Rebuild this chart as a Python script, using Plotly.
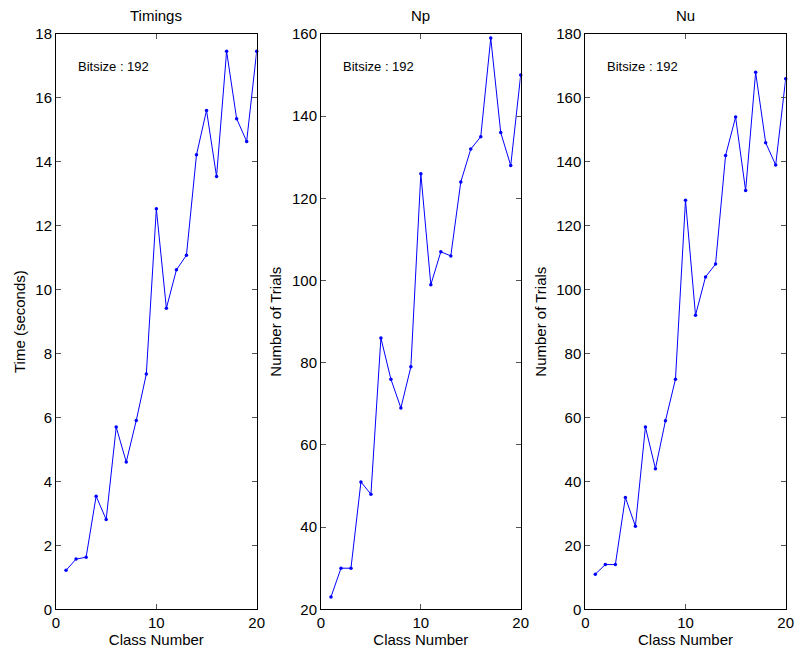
import plotly.graph_objects as go

class_number = list(range(1, 21))
timings = [1.22, 1.57, 1.63, 3.54, 2.81, 5.70, 4.61, 5.91, 7.36, 12.53, 9.42, 10.62, 11.08, 14.22, 15.61, 13.54, 17.46, 15.35, 14.64, 17.46]
np_trials = [23, 30, 30, 51, 48, 86, 76, 69, 79, 126, 99, 107, 106, 124, 132, 135, 159, 136, 128, 150]
nu_trials = [11, 14, 14, 35, 26, 57, 44, 59, 72, 128, 92, 104, 108, 142, 154, 131, 168, 146, 139, 166]

titles = ["Timings", "Np", "Nu"]
y_titles = ["Time (seconds)", "Number of Trials", "Number of Trials"]
y_ranges = [(0, 18), (20, 160), (0, 180)]
y_dticks = [2, 20, 20]
annotation_text = "Bitsize : 192"

W, H = 798, 655
x_doms = [(56 / W, 256.7 / W), (321 / W, 520.7 / W), (585.3 / W, 785.7 / W)]
y_dom = (1 - 609.3 / H, 1 - 34 / H)

fig = go.Figure()
series = [timings, np_trials, nu_trials]
font_family = "Liberation Sans, Arial, sans-serif"

for i, ys in enumerate(series):
    sfx = "" if i == 0 else str(i + 1)
    fig.add_trace(go.Scatter(
        x=class_number, y=ys, mode="lines+markers",
        line=dict(color="#0000ff", width=1),
        marker=dict(color="#0000ff", size=3.5),
        xaxis="x" + sfx, yaxis="y" + sfx, showlegend=False,
        cliponaxis=False,
    ))
    axis_common = dict(
        showline=True, linecolor="black", linewidth=1, mirror="ticks",
        ticks="inside", ticklen=5, tickcolor="#555555", tickwidth=1,
        showgrid=False, zeroline=False, automargin=False,
        tickfont=dict(family=font_family, size=15, color="black"),
    )
    fig.layout["xaxis" + sfx] = dict(
        domain=list(x_doms[i]), range=[0, 20], tick0=0, dtick=10,
        anchor="y" + sfx,
        title=dict(text="Class Number", font=dict(family=font_family, size=15, color="black"), standoff=2),
        **axis_common,
    )
    fig.layout["yaxis" + sfx] = dict(
        domain=list(y_dom), range=list(y_ranges[i]), dtick=y_dticks[i],
        anchor="x" + sfx,
        title=dict(text=y_titles[i], font=dict(family=font_family, size=15, color="black"), standoff=6),
        **axis_common,
    )
    xc = (x_doms[i][0] + x_doms[i][1]) / 2
    fig.add_annotation(text=titles[i], x=xc, y=1 - 15 / H, xref="paper", yref="paper",
                       showarrow=False, xanchor="center", yanchor="middle",
                       font=dict(family=font_family, size=15, color="black"))
    fig.add_annotation(text=annotation_text, x=2,
                       y=y_ranges[i][1] - (y_ranges[i][1] - y_ranges[i][0]) * (32.5 / 575),
                       xref="x" + sfx, yref="y" + sfx, showarrow=False,
                       xanchor="left", yanchor="middle",
                       font=dict(family=font_family, size=13, color="black"))

fig.update_layout(
    width=W, height=H, margin=dict(l=0, r=0, t=0, b=0),
    paper_bgcolor="white", plot_bgcolor="white",
    font=dict(family=font_family, color="black"),
)

fig.write_html("out.html")
